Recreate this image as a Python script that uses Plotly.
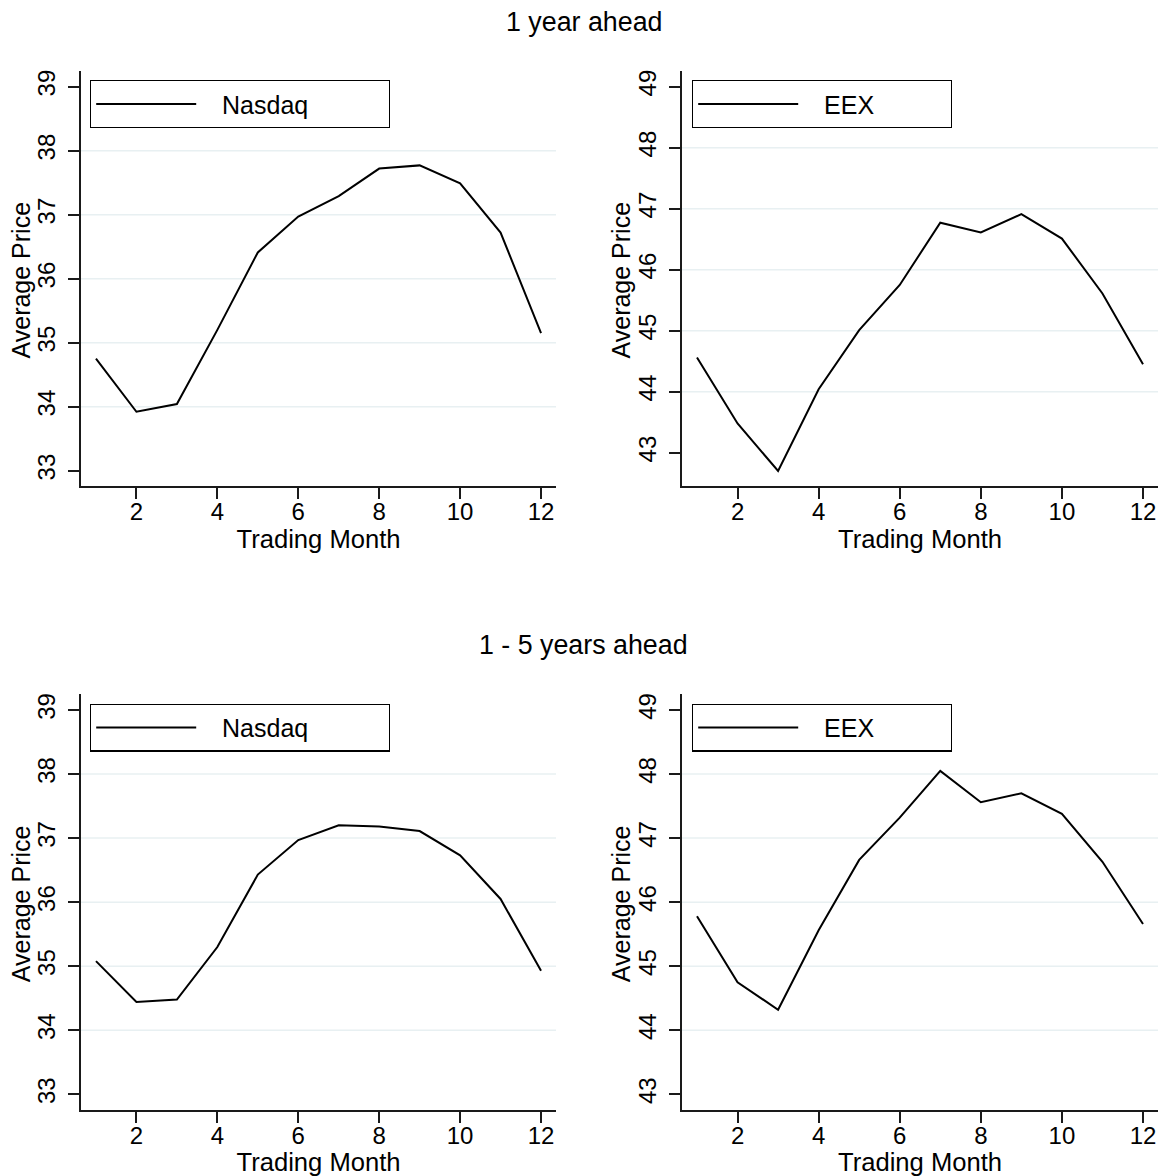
import plotly.graph_objects as go

# ---- data ----
months = [1, 2, 3, 4, 5, 6, 7, 8, 9, 10, 11, 12]
nasdaq_1y = [34.75, 33.92, 34.04, 35.20, 36.41, 36.97, 37.29, 37.72, 37.77, 37.49, 36.72, 35.15]
eex_1y = [44.56, 43.48, 42.70, 44.04, 45.01, 45.75, 46.77, 46.61, 46.91, 46.51, 45.61, 44.45]
nasdaq_5y = [35.08, 34.44, 34.48, 35.30, 36.43, 36.97, 37.20, 37.18, 37.11, 36.73, 36.05, 34.93]
eex_5y = [45.78, 44.75, 44.32, 45.56, 46.66, 47.32, 48.05, 47.56, 47.70, 47.38, 46.63, 45.66]

x_ticks = [2, 4, 6, 8, 10, 12]
nasdaq_ticks = [33, 34, 35, 36, 37, 38, 39]
eex_ticks = [43, 44, 45, 46, 47, 48, 49]

titles = ["1 year ahead", "1 - 5 years ahead"]
x_title = "Trading Month"
y_title = "Average Price"

W, H = 1167, 1176
FONT = "Arial, Liberation Sans, Helvetica, sans-serif"
GRID = "#e8f0f2"
AX = "#1a1a1a"
PAD = "\u00a0\u00a0\u00a0"  # gap between legend key and label


def px_x(a, b):
    return [a / W, b / W]


def px_y(top, bottom):
    return [1 - bottom / H, 1 - top / H]


panels = [
    # (name, values, ticks, xdom, ydom, yrange, legend pos, legend entry width, y-title x px)
    ("Nasdaq", nasdaq_1y, nasdaq_ticks, px_x(81, 556), px_y(71, 486), [32.76, 39.245], (90, 80), 182, 20.5),
    ("EEX", eex_1y, eex_ticks, px_x(682, 1158), px_y(71, 486), [42.454, 49.257], (692, 80), 142, 620.5),
    ("Nasdaq", nasdaq_5y, nasdaq_ticks, px_x(81, 556), px_y(694.3, 1110), [32.755, 39.245], (90, 703.5), 182, 20.5),
    ("EEX", eex_5y, eex_ticks, px_x(682, 1158), px_y(694.3, 1110), [42.755, 49.245], (692, 703.5), 142, 620.5),
]

fig = go.Figure()
layout = dict(
    width=W, height=H,
    margin=dict(l=0, r=0, t=0, b=0),
    paper_bgcolor="white", plot_bgcolor="white",
    font=dict(family=FONT, color="black", size=24),
    showlegend=True,
    shapes=[], annotations=[],
)

for i, (name, vals, yt, xd, yd, yr, lpos, ew, ytx) in enumerate(panels, start=1):
    sfx = "" if i == 1 else str(i)
    leg = "legend" if i == 1 else f"legend{i}"
    fig.add_trace(go.Scatter(
        x=months, y=vals, mode="lines", name=PAD + name,
        line=dict(color="black", width=2),
        xaxis=f"x{sfx}", yaxis=f"y{sfx}", legend=leg,
        hovertemplate=name + ": %{y}<extra></extra>",
    ))
    layout[f"xaxis{sfx}"] = dict(
        domain=xd, anchor=f"y{sfx}", range=[0.63, 12.37],
        tickmode="array", tickvals=x_ticks,
        showline=True, linecolor=AX, linewidth=1.5,
        ticks="outside", ticklen=11, tickwidth=1.5, tickcolor=AX,
        showgrid=False, zeroline=False,
        tickfont=dict(size=24), ticklabelstandoff=-8,
        title=dict(text=x_title, font=dict(size=25.6), standoff=3),
    )
    layout[f"yaxis{sfx}"] = dict(
        domain=yd, anchor=f"x{sfx}", range=yr,
        tickmode="array", tickvals=yt, tickangle=-90,
        showline=True, linecolor=AX, linewidth=1.5,
        ticks="outside", ticklen=11, tickwidth=1.5, tickcolor=AX,
        showgrid=False, zeroline=False,
        tickfont=dict(size=24), ticklabelstandoff=4,
    )
    # y-axis title placed beside the rotated tick labels
    layout["annotations"].append(dict(
        text=y_title, textangle=-90, x=ytx / W, y=(yd[0] + yd[1]) / 2 - 1.5 / H,
        xref="paper", yref="paper", showarrow=False,
        xanchor="center", yanchor="middle", font=dict(size=25),
    ))
    # grid lines at interior ticks only (as in the reference)
    for v in yt[1:-1]:
        layout["shapes"].append(dict(
            type="line", xref=f"x{sfx} domain", yref=f"y{sfx}",
            x0=0, x1=1, y0=v, y1=v, layer="below",
            line=dict(color=GRID, width=1.5),
        ))
    layout[leg] = dict(
        x=lpos[0] / W, y=1 - lpos[1] / H, xanchor="left", yanchor="top",
        xref="paper", yref="paper",
        orientation="h", entrywidthmode="pixels", entrywidth=ew,
        itemwidth=100,
        bordercolor="black", borderwidth=1.2, bgcolor="white",
        font=dict(size=25, family=FONT, color="black"),
    )

layout["annotations"].append(dict(
    text=titles[0], x=0.5, y=1 - 22 / H, xref="paper", yref="paper",
    showarrow=False, xanchor="center", yanchor="middle", font=dict(size=26.8)))
layout["annotations"].append(dict(
    text=titles[1], x=0.5, y=1 - 645 / H, xref="paper", yref="paper",
    showarrow=False, xanchor="center", yanchor="middle", font=dict(size=26.8)))

fig.update_layout(**layout)
fig.write_html(
    "out.html",
    config={"displayModeBar": False},
    post_script="document.body.style.margin='0';document.body.style.overflow='hidden';",
)
